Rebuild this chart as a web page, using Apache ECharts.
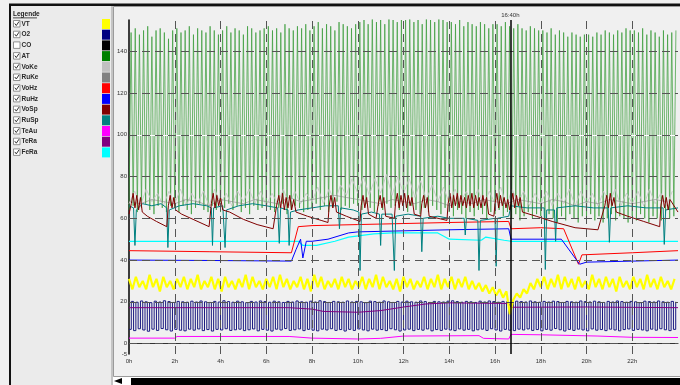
<!DOCTYPE html>
<html>
<head>
<meta charset="utf-8">
<script src="https://cdn.jsdelivr.net/npm/echarts@6/dist/echarts.min.js"></script>
<style>
  html, body { margin: 0; padding: 0; background: #f0f0f0; }
  #chart { width: 680px; height: 385px; }
</style>
</head>
<body>
<div id="chart"></div>
<script>
// legend entries
const names = ['VT', 'O2', 'CO', 'AT', 'VoKe', 'RuKe', 'VoHz', 'RuHz', 'VoSp', 'RuSp', 'TeAu', 'TeRa', 'FeRa'];
const colors = ['#ffff00', '#000080', '#000000', '#008000', '#c0c0c0', '#808080', '#ff0000', '#0000ff', '#800000', '#008080', '#ff00ff', '#800080', '#00ffff'];
const checked = [true, true, false, true, true, true, true, true, true, true, true, true, true];

// axes
const yLabels = [-5, 0, 20, 40, 60, 80, 100, 120, 140];
const yGrid = [0, 20, 40, 60, 80, 100, 120, 140];
const xGrid = [2, 4, 6, 8, 10, 12, 14, 16, 18, 20, 22];
const markerHour = 16 + 40 / 60;

// AT: peak and trough of each cycle over 24 h
const atPeaks = [
  149,151,148,150,152,147,150,151,149,146,150,
  151,149,150,152,148,151,150,149,152,150,148,
  150,152,149,151,150,148,152,151,149,150,151,
  152,150,151,149,153,151,150,152,151,153,150,
  152,154,151,153,152,150,154,153,152,151,153,
  154,155,153,156,154,155,153,156,155,154,155,
  155,156,154,155,153,156,155,154,156,155,154,
  154,153,155,152,154,153,152,154,153,151,153,
  153,152,154,152,151,153,151,150,152,151,150,
  150,149,151,148,150,149,147,149,148,147,148,
  148,147,149,148,150,149,148,150,149,151,150,
  150,149,151,148,150,149,147,150,148,149,150
];
const atLows = [
  64,66,63,65,67,64,62,66,65,63,66,
  65,63,66,64,62,65,67,64,63,66,64,
  63,65,67,64,66,63,65,62,66,64,65,
  66,64,63,65,67,62,64,66,65,63,64,
  65,67,64,66,63,65,68,64,66,65,67,
  66,64,67,65,63,66,64,67,65,66,64,
  65,63,66,64,62,65,63,66,64,62,65,
  63,61,64,62,60,63,61,64,62,60,63,
  62,64,61,63,60,62,59,61,63,60,62,
  61,59,62,60,58,61,59,62,60,58,61,
  60,62,59,61,58,60,62,59,61,60,58,
  61,59,62,60,58,61,60,59,62,60,61
];

// O2: high and low level of each pulse over 24 h
const o2High = [
  20.2,19.8,20.4,20.0,19.6,20.3,19.9,20.5,20.1,19.7,20.2,20.0,
  19.8,20.3,19.9,20.4,20.0,19.7,20.2,19.9,20.5,20.1,19.8,20.3,
  20.0,19.6,20.2,19.9,20.4,20.1,19.8,20.3,20.0,19.7,20.2,19.9,
  20.4,20.0,19.8,20.3,19.9,20.5,20.1,19.7,20.2,20.0,19.8,20.4,
  19.9,20.2,20.0,19.6,20.3,20.1,19.8,20.4,20.0,19.7,20.2,19.9,
  20.3,20.0,19.8,20.4,20.1,19.7,20.2,20.0,19.9,20.3,20.5,20.1,
  19.8,20.2,20.0,19.7,20.3,19.9,20.4,20.1,19.8,20.2,20.0,19.6,
  20.3,20.1,19.9,20.4,20.0,19.8,20.2,19.9,20.3,20.1,19.7,20.2,
  20.0,19.8,20.4,20.1,19.9,20.3,20.0,19.7,20.2,19.9,20.4,20.1,
  19.8,20.2,20.0,19.6,20.3,20.1,19.9,20.4,20.0,19.8,20.2,20.0
];
const o2Low = [
  6.8,6.2,7.1,6.5,5.9,6.9,6.3,7.2,6.6,6.0,6.8,6.4,
  6.1,6.9,6.4,7.0,6.2,6.7,6.0,6.8,6.5,7.1,6.3,6.6,
  6.9,6.2,6.6,7.0,6.1,6.8,6.4,6.0,6.9,6.5,7.2,6.3,
  6.6,7.0,6.2,6.8,6.4,6.1,6.9,6.5,7.1,6.3,6.7,6.0,
  6.8,6.3,7.0,6.5,6.1,6.9,6.4,6.7,6.2,7.1,6.6,6.0,
  6.5,6.9,6.2,6.8,6.4,7.0,6.1,6.7,6.3,6.9,6.5,6.2,
  7.0,6.4,6.8,6.1,6.6,6.9,6.3,7.1,6.5,6.0,6.8,6.4,
  6.2,6.9,6.5,7.0,6.3,6.7,6.1,6.8,6.4,7.2,6.6,6.0,
  6.8,6.3,6.9,6.5,6.1,7.0,6.4,6.7,6.2,6.9,6.5,6.1,
  6.7,7.0,6.3,6.8,6.5,6.1,6.9,6.4,7.1,6.6,6.2,6.8
];

// VT: samples every 0.15 h
const vtValues = [
  31,26,32,27,30,26,33,27,31,25,32,27,30,26,31,27,
  32,26,31,27,33,26,30,27,32,26,31,25,32,27,30,26,
  31,27,33,26,32,27,30,26,31,27,32,26,33,27,31,26,
  30,27,32,26,31,25,33,27,32,26,30,27,31,26,32,27,
  31,26,30,27,32,26,31,27,33,26,32,27,30,26,31,25,
  32,27,31,26,30,27,32,26,31,27,33,26,31,27,32,26,
  31,27,32,26,30,26,29,25,28,24,27,23,26,22,25,14,
  21,24,22,26,24,29,26,31,27,32,26,31,27,33,26,32,
  27,31,26,32,27,30,26,33,27,31,26,32,27,31,25,32,
  27,30,26,32,27,31,26,33,27,31,26,32,27,30,26,31
];

// VoKe: samples every 0.25 h
const voKeValues = [
  67,73,66,74,68,72,66,73,67,74,66,72,
  67,73,66,74,67,72,66,73,68,74,67,73,
  66,72,67,74,66,73,67,72,68,75,67,74,
  68,76,71,79,72,80,71,79,72,81,71,80,
  72,79,70,78,69,76,68,75,67,74,68,73,
  67,74,66,73,67,75,66,74,67,73,66,72,
  67,73,66,72,67,74,66,73,67,72,66,73,
  67,74,66,72,67,73,66,74,67,72,66,73
];

// RuKe: samples every 0.5 h
const ruKeValues = [
  68,67,69,68,67,69,68,66,69,68,67,69,
  68,67,70,68,69,70,71,70,69,68,67,69,
  68,67,69,68,66,68,67,69,68,67,69,68,
  67,69,68,66,68,67,69,68,67,68,69,68
];

// VoSp (hours / values)
const voSpHours = [
  0,0.1,0.18,0.26,0.34,0.42,0.5,0.58,0.8,1.2,1.65,
  1.72,1.8,1.88,1.96,2.04,2.3,2.8,3.5,
  3.6,3.68,3.76,3.84,3.92,4.0,4.1,4.4,5.0,5.6,6.3,
  6.45,6.55,6.63,6.71,6.79,6.87,6.95,7.03,7.11,7.2,7.3,7.8,8.4,8.7,
  8.75,8.83,8.91,8.99,9.07,9.5,10.1,
  10.15,10.23,10.31,10.39,10.47,10.8,
  10.9,10.98,11.06,11.14,11.22,11.6,
  11.65,11.73,11.81,11.89,11.97,12.05,12.13,12.21,12.29,12.37,12.47,12.75,
  12.8,12.88,12.96,13.04,13.12,13.9,
  13.95,14.03,14.11,14.19,14.27,14.35,14.43,14.51,14.59,14.67,14.75,14.83,14.91,14.99,15.07,15.15,15.23,15.31,15.39,15.47,15.55,15.63,15.72,15.95,
  16.0,16.08,16.16,16.24,16.32,16.4,16.48,16.56,16.64,
  16.7,16.78,16.86,16.94,17.02,17.1,17.2,17.8,18.5,19.5,20.5,
  20.8,20.88,20.96,21.04,21.12,21.2,21.3,21.8,22.5,23.2,
  23.25,23.33,23.41,23.49,23.57,23.65,24
];
const voSpValues = [
  62,67,72,65,71,64,70,63,61,58.5,56,
  66,71,65,70,64,62,59.5,56,
  67,72,65,71,66,70,64,63,59.5,57,55,
  66,71,65,72,64,70,65,71,64,69,63,61,59,58,
  66,71,65,70,63,61,58.5,
  66,71,65,70,62,60,
  67,71,65,70,61,60,
  67,72,65,71,66,72,65,71,66,70,62,61,
  67,71,65,70,61,59,
  67,72,65,71,66,72,65,71,66,70,65,71,66,72,65,71,66,70,65,71,66,70,62,61,
  67,72,65,71,66,70,65,69,64,
  67,72,65,71,66,70,63,61,58.5,55.5,54.5,
  66,71,65,72,66,70,63,61,58.5,56,
  66,71,65,70,64,69,63
];

// RuSp (hours / values)
const ruSpHours = [
  0,0.2,0.26,0.32,0.6,1.0,1.4,1.65,1.7,1.76,2.2,2.8,3.4,3.6,3.65,3.7,4.1,4.2,4.26,4.8,5.4,6.0,
  6.5,6.57,6.63,6.95,7.0,7.06,7.4,8.0,8.6,9.15,9.2,9.26,9.8,10.05,10.1,10.16,10.6,10.95,11.0,11.05,
  11.5,11.6,11.66,12.2,12.75,12.8,12.86,13.5,14.0,14.65,14.7,14.75,15.25,15.3,15.36,16.0,16.05,16.1,16.6,
  16.7,17.4,18.15,18.2,18.26,18.6,18.65,18.7,19.5,20.3,20.95,21.0,21.06,21.8,22.6,23.35,23.4,23.46,24
];
const ruSpValues = [
  66,65,47,64,67,66,67,65,46,64,66,67,66,65,47,65,66,46,64,66,67,66,
  65,48,65,64,47,63,64,65,66,66,55,65,64,63,35,62,63,62,47,62,
  62,35,61,62,61,44,60,61,60,60,52,60,59,35,59,60,37,60,61,
  66,65,65,35.5,64,64,49,65,66,65,65,48.5,65,66,65,65,47.5,64,65
];

// VoHz (hours / values)
const voHzHours = [0, 3.5, 7.1, 7.4, 8, 10, 12, 14, 16.6, 16.7, 18, 19, 19.65, 19.8, 22, 24];
const voHzValues = [44.5, 44, 43.5, 56, 56.5, 57, 57.5, 58, 58.5, 55, 55.5, 55, 38, 42.5, 43.5, 44.5];

// RuHz (hours / values)
const ruHzHours = [0, 3.5, 7.1, 7.3, 7.5, 7.6, 7.75, 8, 8.7, 9.6, 10, 12, 14, 16.6, 16.7, 18.9, 19.7, 20, 24];
const ruHzValues = [40, 39.8, 39.5, 45, 50, 41, 49, 49, 50, 53, 53.5, 54, 54.5, 55, 50, 50, 38, 39, 40];

// FeRa (hours / values)
const feRaHours = [0, 7.4, 7.6, 8.2, 9.0, 9.6, 10.7, 11.5, 13.5, 14.0, 15.4, 15.6, 16.4, 16.7, 24];
const feRaValues = [49, 49, 47, 47, 49, 51, 52.5, 53, 53, 50, 49.5, 51, 49.5, 49, 49];

// TeAu (hours / values)
const teAuHours = [0, 2, 2.1, 7, 8, 10, 11, 12, 15.3, 15.5, 16.6, 16.7, 18, 20.5, 22, 24];
const teAuValues = [2.6, 2.6, 3.4, 3.4, 2.6, 2.2, 2.5, 3.6, 3.8, 2.5, 2.2, 4.4, 4.2, 3.6, 3.0, 2.9];

// TeRa (hours / values)
const teRaHours = [0, 7, 8, 8.5, 10, 11, 12, 13, 14, 16.6, 16.7, 20, 24];
const teRaValues = [17.2, 17.2, 16.5, 15.4, 15, 15.8, 17.5, 19, 19.5, 19.2, 17.4, 17.5, 17.2];

// ---- build series points from the arrays ----
const pairs = (h, v) => h.map((x, i) => [x, v[i]]);
const sampled = (v, step) => v.map((y, i) => [i * step, y]);
const cycles = (hi, lo) => {
  const per = 24 / hi.length;
  const pts = [];
  hi.forEach((p, i) => { pts.push([i * per, lo[i]]); pts.push([(i + 0.5) * per, p]); });
  return pts;
};

function line(name, data, width, extra) {
  const color = colors[names.indexOf(name)];
  return Object.assign({
    name, type: 'line', data, symbol: 'none', showSymbol: false,
    animation: false, silent: true,
    lineStyle: { color, width: width || 1 }, itemStyle: { color }
  }, extra || {});
}

const gridLine = { color: '#555555', width: 1, type: [8, 5] };
const markData = [{ yAxis: 100, lineStyle: { color: '#ffffff', width: 1.2, type: 'solid' } }]
  .concat(yGrid.map(v => ({ yAxis: v, lineStyle: gridLine })))
  .concat(xGrid.map(h => ({ xAxis: h, lineStyle: gridLine })))
  .concat([{
    xAxis: markerHour,
    lineStyle: { color: '#000', width: 1.5, type: 'solid' },
    label: { show: true, position: 'end', formatter: '16:40h', fontSize: 6, color: '#333', distance: 2, fontFamily: 'Liberation Sans' }
  }]);

const series = [
  line('AT', cycles(atPeaks, atLows), 1, { lineStyle: { color: '#3a9c3a', width: 1, opacity: 0.72 } }),
  line('VoKe', sampled(voKeValues, 0.25), 1, { lineStyle: { color: '#c8c8c8', width: 1, opacity: 0.9 } }),
  line('RuKe', sampled(ruKeValues, 0.5), 1, { lineStyle: { color: '#808080', width: 0.8, opacity: 0.7 } }),
  line('FeRa', pairs(feRaHours, feRaValues), 1.2),
  line('VoHz', pairs(voHzHours, voHzValues), 1),
  line('RuHz', pairs(ruHzHours, ruHzValues), 1),
  line('RuSp', pairs(ruSpHours, ruSpValues), 1),
  line('VoSp', pairs(voSpHours, voSpValues), 1),
  line('TeAu', pairs(teAuHours, teAuValues), 1),
  line('O2', cycles(o2High, o2Low), 1, { step: 'end', lineStyle: { color: '#1a1a80', width: 1 } }),
  line('TeRa', pairs(teRaHours, teRaValues), 1),
  line('VT', sampled(vtValues, 0.15), 2.2),
  {
    name: 'grid', type: 'line', data: [], silent: true, animation: false,
    markLine: { silent: true, symbol: ['none', 'none'], animation: false, label: { show: false }, data: markData }
  }
];

// ---- legend panel + frame drawn as graphics ----
const font = 'Liberation Sans, Arial, sans-serif';
const graphics = [
  { type: 'rect', shape: { x: 10, y: 5, width: 101, height: 380 }, style: { fill: '#ebebeb' } },
  { type: 'rect', shape: { x: 111, y: 5, width: 2, height: 380 }, style: { fill: '#c4c4c4' } },
  { type: 'rect', shape: { x: 113.5, y: 6.5, width: 567, height: 370 }, style: { fill: '#f0f0f0', stroke: '#9a9a9a', lineWidth: 1 } },
  { type: 'rect', shape: { x: 9, y: 3.5, width: 671, height: 2.5 }, style: { fill: '#111' } },
  { type: 'rect', shape: { x: 9, y: 4, width: 2, height: 381 }, style: { fill: '#111' } },
  { type: 'rect', shape: { x: 113, y: 377, width: 567, height: 8 }, style: { fill: '#ffffff' } },
  { type: 'rect', shape: { x: 131, y: 378, width: 549, height: 7 }, style: { fill: '#000' } },
  { type: 'polygon', shape: { points: [[114, 381], [122, 378], [122, 384]] }, style: { fill: '#000' } },
  { type: 'text', x: 13, y: 14, style: { text: 'Legende', font: 'bold 6.5px ' + font, fill: '#222', verticalAlign: 'middle' } },
  { type: 'rect', shape: { x: 13, y: 17.5, width: 24, height: 0.8 }, style: { fill: '#222' } }
];
names.forEach((n, i) => {
  const cy = 24 + i * 10.7;
  graphics.push({ type: 'rect', shape: { x: 13.5, y: cy - 3.5, width: 6.5, height: 6.5 }, style: { fill: '#fff', stroke: '#777', lineWidth: 0.8 } });
  if (checked[i]) {
    graphics.push({ type: 'polyline', shape: { points: [[14.8, cy - 0.5], [16.3, cy + 1.5], [19, cy - 2.5]] }, style: { stroke: '#333', lineWidth: 1, fill: null } });
  }
  graphics.push({ type: 'text', x: 21.5, y: cy, style: { text: n, font: 'bold 6.5px ' + font, fill: '#2a2a2a', verticalAlign: 'middle' } });
  graphics.push({ type: 'rect', shape: { x: 102, y: cy - 5, width: 8, height: 10 }, style: { fill: colors[i] } });
});

const chart = echarts.init(document.getElementById('chart'));
chart.setOption({
  animation: false,
  backgroundColor: '#f0f0f0',
  graphic: graphics,
  grid: { left: 129, right: 2, top: 20, bottom: 31, containLabel: false },
  xAxis: {
    type: 'value', min: 0, max: 24, interval: 2,
    axisLine: { show: true, lineStyle: { color: '#333', width: 1 } },
    axisTick: { show: false },
    splitLine: { show: false },
    axisLabel: { formatter: v => v + 'h', showMaxLabel: false, fontSize: 6, color: '#333', margin: 4, fontFamily: font }
  },
  yAxis: {
    type: 'value', min: -5, max: 155,
    axisLine: { show: true, lineStyle: { color: '#000', width: 1.5 } },
    axisTick: { show: false },
    splitLine: { show: false },
    axisLabel: { customValues: yLabels, fontSize: 6, color: '#333', margin: 2, fontFamily: font }
  },
  series: series
});
</script>
</body>
</html>
